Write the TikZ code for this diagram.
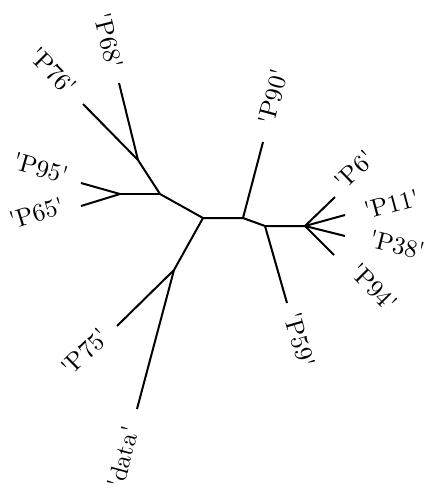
\documentclass[tikz,border=0pt]{standalone}

\newcommand{\leafname}[1]{\textquotesingle#1\textquotesingle}

\tikzset{
  branch/.style={thick},
  leaf/.style={anchor=center, inner sep=1pt}
}

\begin{document}
\begin{tikzpicture}[x=0.4pt,y=-0.4pt]
  \useasboundingbox (0,0) rectangle (425,489);
  % inner points of the tree
  \coordinate (a) at (203,218);
  \coordinate (b) at (243,218);
  \coordinate (c) at (265,226);
  \coordinate (d) at (305,226);
  \coordinate (e) at (174,270);
  \coordinate (f) at (160,194);
  \coordinate (g) at (120,194);
  \coordinate (h) at (138,160);
  % leaf ends
  \coordinate (t68) at (119,83);
  \coordinate (t76) at (83,104);
  \coordinate (t95) at (81,183);
  \coordinate (t65) at (81,206);
  \coordinate (t90) at (263,142);
  \coordinate (t6)  at (335,197);
  \coordinate (t11) at (345,215);
  \coordinate (t38) at (345,236);
  \coordinate (t94) at (334,255);
  \coordinate (t59) at (287,303);
  \coordinate (t75) at (117,326);
  \coordinate (tdata) at (137,409);

  \draw[branch] (a) -- (b) -- (c) -- (d);
  \draw[branch] (e) -- (a) -- (f) -- (h);
  \draw[branch] (f) -- (g);
  \draw[branch] (h) -- (t68);
  \draw[branch] (h) -- (t76);
  \draw[branch] (g) -- (t95);
  \draw[branch] (g) -- (t65);
  \draw[branch] (b) -- (t90);
  \draw[branch] (c) -- (t59);
  \draw[branch] (d) -- (t6);
  \draw[branch] (d) -- (t11);
  \draw[branch] (d) -- (t38);
  \draw[branch] (d) -- (t94);
  \draw[branch] (e) -- (t75);
  \draw[branch] (e) -- (tdata);

  % labels, turned along their branch
  \node[leaf, rotate=-76] (n68) at (109,41) {\leafname{P68}};
  \node[leaf, rotate=-45] (n76) at (53,71) {\leafname{P76}};
  \node[leaf, rotate=-16] (n95) at (40.5,168) {\leafname{P95}};
  \node[leaf, rotate=17] (n65) at (36.5,213) {\leafname{P65}};
  \node[leaf, rotate=75] (n90) at (273,97) {\leafname{P90}};
  \node[leaf, rotate=44] (n6) at (354.5,170) {\leafname{P6}};
  \node[leaf, rotate=15] (n11) at (391.5,204) {\leafname{P11}};
  \node[leaf, rotate=-14] (n38) at (397,245) {\leafname{P38}};
  \node[leaf, rotate=-45] (n94) at (374,287.5) {\leafname{P94}};
  \node[leaf, rotate=-74] (n59) at (300,340) {\leafname{P59}};
  \node[leaf, rotate=44.5] (n75) at (85,352) {\leafname{P75}};
  \node[leaf, rotate=75] (ndata) at (123,457) {\leafname{data}};
\end{tikzpicture}
\end{document}
